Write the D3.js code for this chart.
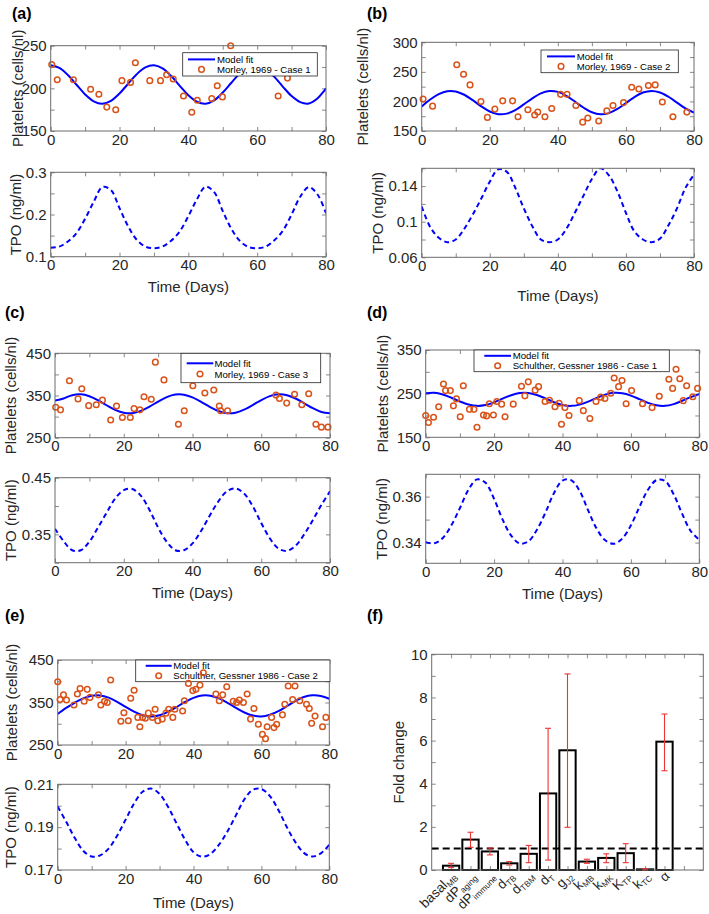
<!DOCTYPE html>
<html><head><meta charset="utf-8">
<script src="https://cdn.jsdelivr.net/npm/d3@7/dist/d3.min.js"></script>
<style>
body{margin:0;background:#fff;}
svg text{font-family:"Liberation Sans",Arial,Helvetica,sans-serif;}
</style></head>
<body>
<svg id="fig" width="709" height="914"></svg>
<script>
// ---------------- DATA ----------------
const days = [0,2.5,5,7.5,10,12.5,15,17.5,20,22.5,25,27.5,30,32.5,35,37.5,40,42.5,45,47.5,50,52.5,55,57.5,60,62.5,65,67.5,70,72.5,75,77.5,80];
const timeTicks = [0,10,20,30,40,50,60,70,80];
const timeLabels = [0,20,40,60,80];

// (a) Morley 1969 - Case 1
const fitA = [227,223.9,215.6,204.2,192.9,184.8,182,185.4,194,205.4,216.6,224.5,227,223.3,214.5,203,191.9,184.3,182,186,195.1,206.6,217.6,225,226.9,222.6,213.4,201.8,191,183.8,182.2,188,200];
const tpoA = [.121,.124,.136,.156,.19,.23,.265,.258,.215,.172,.14,.124,.12,.124,.138,.16,.196,.236,.266,.253,.208,.166,.137,.123,.12,.124,.139,.162,.2,.242,.265,.248,.203];
const obsA_t = [0.3,1.9,6.6,11.6,14.0,16.3,18.9,20.7,23.2,24.6,28.8,31.9,33.7,35.6,38.6,41.0,42.6,46.8,48.4,49.9,52.3,66.1,68.8];
const obsA_v = [228,210,210,199,193,178,175,209,207,230,209,209,216,211,191,172,186,188,203,190,250,191,212];
const platTicksA = [150,175,200,225,250], platLabelsA = [150,200,250];
const tpoTicksA = [0.1,0.15,0.2,0.25,0.3], tpoLabelsA = [0.1,0.2,0.3];

// (b) Morley 1969 - Case 2
const fitB = [191.5,203.3,212.3,217.3,216.9,211.3,202.1,191.7,183,178.5,179.4,185.5,195,205.3,213.7,217.6,216.2,209.6,199.8,189.7,181.7,178.2,180.3,187.3,197.2,207.3,215,217.8,215.2,207.9,198,188.1,181];
const tpoB = [.117,.094,.082,.077,.080,.092,.108,.126,.145,.159,.156,.138,.115,.095,.080,.077,.080,.092,.110,.129,.148,.160,.152,.134,.110,.089,.080,.077,.081,.096,.115,.138,.153];
const obsB_t = [0.4,3.2,10.3,12.3,14.2,17.4,19.3,21.5,23.8,26.7,28.3,31.2,33.2,34.1,36.2,38.2,40.8,42.7,45.3,47.3,48.8,52.0,54.4,56.2,59.3,61.7,63.8,66.6,68.6,70.7,73.8,77.9];
const obsB_v = [204,192,262,246,228,200,173,187,201,201,174,186,177,182,174,188,212,212,193,165,172,167,184,193,198,224,221,227,228,199,174,182];
const platTicksB = [150,175,200,225,250,275,300], platLabelsB = [150,200,250,300];
const tpoTicksB = [0.06,0.08,0.1,0.12,0.14,0.16], tpoLabelsB = [0.06,0.1,0.14];

// (c) Morley 1969 - Case 3
const fitC = [338,343,350.8,352.7,348.3,338.8,326.9,316,309.1,308.2,313.6,323.6,335.6,346,352.1,352,345.7,335.1,323.2,313.3,308.1,309.3,316.4,327.4,339.2,348.5,352.7,350.7,342.9,331.5,320,311,307.8];
const tpoC = [.360,.338,.322,.322,.337,.362,.388,.413,.428,.430,.418,.393,.362,.337,.322,.322,.334,.356,.383,.408,.426,.431,.422,.400,.370,.343,.325,.321,.330,.350,.375,.402,.426];
const obsC_t = [0.2,1.6,4.2,6.7,7.8,9.8,12.0,13.8,16.2,17.9,19.6,21.9,23.0,24.7,25.9,28.0,29.2,31.7,35.9,37.6,40.1,43.6,46.2,47.8,48.2,50.2,64.3,65.3,67.4,69.7,71.8,73.8,75.9,77.5,79.4];
const obsC_v = [322,316,385,342,366,326,328,339,292,325,298,298,319,316,347,341,429,387,282,314,373,356,363,325,314,314,351,343,332,353,328,354,282,275,275];
const platTicksC = [250,300,350,400,450], platLabelsC = [250,350,450];
const tpoTicksC = [0.3,0.35,0.4,0.45], tpoLabelsC = [0.35,0.45];

// (d) Schulther, Gessner 1986 - Case 1
const fitD = [250.7,251.8,248,240.6,232,225.1,222,223.9,230.1,238.6,246.5,251.3,251.5,247,239.1,230.5,224.1,222,224.9,231.7,240.3,247.7,251.8,251,245.6,237.4,229,223.3,222.1,226,233.7,242,249];
const tpoD = [.3402,.3397,.3420,.3475,.3550,.3630,.3675,.3660,.3590,.3500,.3430,.3396,.3405,.3455,.3530,.3615,.3670,.3672,.3625,.3540,.3460,.3410,.3395,.3418,.3475,.3555,.3630,.3672,.3668,.3610,.3525,.3450,.3412];
const obsD_t = [0,0.8,2.3,3.8,5.2,5.8,7.2,8.1,9.0,10.1,11.0,12.8,14.1,15.0,16.9,17.8,18.6,19.8,20.8,22.2,23.2,25.6,28.0,29.0,30.0,32.0,33.0,34.9,36.2,37.8,39.0,39.7,40.7,41.9,44.9,46.1,48.0,49.8,51.2,52.4,54.1,55.1,56.4,57.4,58.6,60.2,63.4,66.2,68.3,71.1,72.2,73.2,74.3,75.3,76.3,78.1,79.5];
const obsD_v = [200,184,196,220,272,257,257,222,238,197,268,214,214,173,201,199,227,201,232,226,197,226,267,245,277,258,266,232,235,220,228,180,218,200,234,211,193,232,242,239,251,286,266,280,227,257,227,218,244,283,262,306,284,234,268,243,262];
const platTicksD = [150,200,250,300,350], platLabelsD = [150,250,350];
const tpoTicksD = [0.34,0.35,0.36], tpoLabelsD = [0.34,0.36];

// (e) Schulther, Gessner 1986 - Case 2
const fitE = [323,337.3,349.4,359.7,365.9,366.5,361.4,351.7,339.7,328.3,320,317,319.8,327.8,339.2,351.2,361,366.5,366.1,359.7,349.4,337.3,326.5,319.2,317,321,329.5,341.3,353.3,362.8,366.8,365.5,358.8];
const tpoE = [.1996,.1925,.1850,.1790,.1763,.1768,.1800,.1860,.1935,.2010,.2065,.2080,.2055,.1995,.1918,.1842,.1783,.1762,.1775,.1818,.1880,.1955,.2030,.2075,.2078,.2045,.1980,.1900,.1830,.1780,.1763,.1778,.1818];
const obsE_t = [0,0.7,1.7,2.6,4.8,5.8,6.6,7.8,8.7,9.5,12.0,12.7,13.8,14.6,15.6,18.6,19.5,20.8,21.5,22.5,23.6,24.2,25.0,25.8,26.7,27.9,28.7,29.5,30.8,31.9,32.7,33.9,34.5,36.8,37.3,38.5,39.8,40.7,41.9,42.9,46.6,47.6,48.6,49.8,51.7,52.7,53.5,54.7,55.8,56.8,57.8,59.1,60.3,61.2,61.7,63.0,63.7,64.5,66.2,66.9,67.9,69.9,69.2,71.3,73.3,74.1,74.8,75.8,78.0,79.0];
const obsE_v = [399,357,368,356,344,370,383,353,381,362,368,344,353,350,403,306,326,307,360,379,315,293,315,313,325,315,334,307,311,325,334,315,334,330,354,395,378,381,391,420,370,354,368,387,353,350,356,350,370,311,336,299,275,265,293,315,291,299,321,346,389,389,357,354,346,336,301,318,293,315];
const platTicksE = [250,300,350,400,450], platLabelsE = [250,350,450];
const tpoTicksE = [0.17,0.18,0.19,0.2,0.21], tpoLabelsE = [0.17,0.19,0.21];

// (f) parameter fold changes
const paramMain = ["basal","dP","dP","d","d","d","g","k","k","K","k","\u03b1"];
const paramSub  = ["MB","aging","immune","TB","TBM","T","J2","MB","MK","TP","TC",""];
const foldChange = [0.2,1.41,0.86,0.31,0.75,3.55,5.55,0.39,0.56,0.78,0.03,5.95];
const errLow  = [0.11,1.05,0.70,0.23,0.34,0.46,1.98,0.31,0.34,0.34,0.0,4.6];
const errHigh = [0.31,1.75,1.02,0.39,1.14,6.57,9.09,0.50,0.75,1.22,0.06,7.23];
const foldTicks = [0,1,2,3,4,5,6,7,8,9,10], foldLabels = [0,2,4,6,8,10];
const paramTicks = [1,2,3,4,5,6,7,8,9,10,11,12,13];

// ---------------- DRAWING ----------------
const svg = d3.select("#fig");
const TXT = "#262626", AXC = "#6b6b6b", FIT = "#0000ff", OBS = "#d95319";
let clipN = 0;

function makeAxes(fr, xd, yd, xt, xl, yt, yl){
  const g = svg.append("g");
  const x = d3.scaleLinear().domain(xd).range([fr.x0, fr.x1]);
  const y = d3.scaleLinear().domain(yd).range([fr.y1, fr.y0]);
  const fmt = labs => d => labs.includes(d) ? String(d) : "";
  g.append("rect").attr("x",fr.x0).attr("y",fr.y0).attr("width",fr.x1-fr.x0).attr("height",fr.y1-fr.y0).attr("fill","#fff");
  const ax = [
    g.append("g").attr("transform",`translate(0,${fr.y1})`).call(d3.axisBottom(x).tickValues(xt).tickFormat(xl?fmt(xl):"").tickSizeInner(-4).tickSizeOuter(0).tickPadding(3)),
    g.append("g").attr("transform",`translate(0,${fr.y0})`).call(d3.axisTop(x).tickValues(xt).tickFormat("").tickSizeInner(-4).tickSizeOuter(0)),
    g.append("g").attr("transform",`translate(${fr.x0},0)`).call(d3.axisLeft(y).tickValues(yt).tickFormat(fmt(yl)).tickSizeInner(-4).tickSizeOuter(0).tickPadding(4)),
    g.append("g").attr("transform",`translate(${fr.x1},0)`).call(d3.axisRight(y).tickValues(yt).tickFormat("").tickSizeInner(-4).tickSizeOuter(0))
  ];
  ax.forEach(a => {
    a.select(".domain").remove();
    a.selectAll(".tick line").attr("stroke",AXC).attr("stroke-width",0.8);
    a.selectAll(".tick text").attr("fill",TXT).attr("font-size",15).style("font-family",'"Liberation Sans",Arial,sans-serif');
  });
  const id = "clip"+(clipN++);
  svg.append("clipPath").attr("id",id).append("rect").attr("x",fr.x0).attr("y",fr.y0).attr("width",fr.x1-fr.x0).attr("height",fr.y1-fr.y0);
  const frame = () => svg.append("rect").attr("x",fr.x0).attr("y",fr.y0).attr("width",fr.x1-fr.x0).attr("height",fr.y1-fr.y0).attr("fill","none").attr("stroke",AXC).attr("stroke-width",1);
  return {g, x, y, clip:`url(#${id})`, frame};
}

function yLabel(txt, cx, cy){
  svg.append("text").attr("transform",`translate(${cx},${cy}) rotate(-90)`).attr("text-anchor","middle")
    .attr("dominant-baseline","central").attr("font-size",15).attr("fill",TXT).text(txt);
}
function xLabel(txt, cx, cy){
  svg.append("text").attr("x",cx).attr("y",cy).attr("text-anchor","middle").attr("dominant-baseline","central")
    .attr("font-size",15).attr("fill",TXT).text(txt);
}
function tag(txt, x, y){
  svg.append("text").attr("x",x).attr("y",y).attr("font-size",16).attr("font-weight","bold").attr("fill","#000").text(txt);
}

const panels = [
  {tag:"(a)", tagPos:[12,19], top:{x0:50.7,x1:326,y0:45.7,y1:131}, bot:{x0:50.7,x1:326,y0:172.3,y1:256.7},
   yLabX:[17,15], xLabY:286, platDom:[150,250], platTicks:platTicksA, platLabels:platLabelsA,
   tpoDom:[0.1,0.3], tpoTicks:tpoTicksA, tpoLabels:tpoLabelsA, fit:fitA, tpo:tpoA, obsT:obsA_t, obsV:obsA_v,
   source:"Morley, 1969 - Case 1", leg:{x0:182.7,x1:317.3,y0:52.7,y1:76,lx0:188,lx1:215,tx:217,r1:59.4,r2:69.4}},
  {tag:"(b)", tagPos:[367,19], top:{x0:421.7,x1:694,y0:42.3,y1:131}, bot:{x0:421.7,x1:694,y0:168.3,y1:257.3},
   yLabX:[362,377], xLabY:295, platDom:[150,300], platTicks:platTicksB, platLabels:platLabelsB,
   tpoDom:[0.06,0.16], tpoTicks:tpoTicksB, tpoLabels:tpoLabelsB, fit:fitB, tpo:tpoB, obsT:obsB_t, obsV:obsB_v,
   source:"Morley, 1969 - Case 2", leg:{x0:541,x1:678.3,y0:50,y1:72.7,lx0:547,lx1:575,tx:576.7,r1:56.4,r2:66.4}},
  {tag:"(c)", tagPos:[5,318], top:{x0:55,x1:330,y0:353.3,y1:437.7}, bot:{x0:55,x1:330,y0:477.7,y1:562.7},
   yLabX:[10,10], xLabY:592, platDom:[250,450], platTicks:platTicksC, platLabels:platLabelsC,
   tpoDom:[0.3,0.45], tpoTicks:tpoTicksC, tpoLabels:tpoLabelsC, fit:fitC, tpo:tpoC, obsT:obsC_t, obsV:obsC_v,
   source:"Morley, 1969 - Case 3", leg:{x0:181,x1:320.7,y0:353.3,y1:382.7,lx0:186.7,lx1:213.3,tx:214.5,r1:363.3,r2:374}},
  {tag:"(d)", tagPos:[367,318], top:{x0:425.7,x1:699.3,y0:350,y1:437.3}, bot:{x0:425.7,x1:699.3,y0:474.3,y1:563.3},
   yLabX:[382,381], xLabY:593, platDom:[150,350], platTicks:platTicksD, platLabels:platLabelsD,
   tpoDom:[0.331,0.3697], tpoTicks:tpoTicksD, tpoLabels:tpoLabelsD, fit:fitD, tpo:tpoD, obsT:obsD_t, obsV:obsD_v,
   source:"Schulther, Gessner 1986 - Case 1", leg:{x0:474,x1:669.3,y0:350,y1:371.7,lx0:484.3,lx1:511,tx:512.7,r1:355.8,r2:365.8}},
  {tag:"(e)", tagPos:[5,621], top:{x0:57.7,x1:329.3,y0:660,y1:745}, bot:{x0:57.7,x1:329.3,y0:784.3,y1:870},
   yLabX:[11,10], xLabY:902, platDom:[250,450], platTicks:platTicksE, platLabels:platLabelsE,
   tpoDom:[0.17,0.21], tpoTicks:tpoTicksE, tpoLabels:tpoLabelsE, fit:fitE, tpo:tpoE, obsT:obsE_t, obsV:obsE_v,
   source:"Schulther, Gessner 1986 - Case 2", pointsOver:true, leg:{x0:135.7,x1:330,y0:660,y1:681.7,lx0:145.7,lx1:171.7,tx:173.3,r1:665.8,r2:675.8}}
];

panels.forEach(p => {
  tag(p.tag, p.tagPos[0], p.tagPos[1]);
  // Platelets axes
  const A = makeAxes(p.top, [0,80], p.platDom, timeTicks, timeLabels, p.platTicks, p.platLabels);
  const line = d3.line().x(d => A.x(d[0])).y(d => A.y(d[1])).curve(d3.curveCatmullRom.alpha(0.5));
  svg.append("path").datum(days.map((t,i)=>[t,p.fit[i]])).attr("d",line).attr("fill","none")
    .attr("stroke",FIT).attr("stroke-width",2).attr("clip-path",A.clip);
  const drawPts = () => svg.append("g").selectAll("circle").data(p.obsT.map((t,i)=>[t,p.obsV[i]])).join("circle")
    .attr("cx",d=>A.x(d[0])).attr("cy",d=>A.y(d[1])).attr("r",2.8).attr("fill","none").attr("stroke",OBS).attr("stroke-width",1.5);
  if (!p.pointsOver) drawPts();
  A.frame();
  // legend
  const L = p.leg;
  svg.append("rect").attr("x",L.x0).attr("y",L.y0).attr("width",L.x1-L.x0).attr("height",L.y1-L.y0)
    .attr("fill","#fff").attr("stroke",TXT).attr("stroke-width",0.8);
  svg.append("line").attr("x1",L.lx0).attr("x2",L.lx1).attr("y1",L.r1).attr("y2",L.r1).attr("stroke",FIT).attr("stroke-width",2);
  svg.append("circle").attr("cx",(L.lx0+L.lx1)/2).attr("cy",L.r2).attr("r",2.8).attr("fill","none").attr("stroke",OBS).attr("stroke-width",1.5);
  svg.append("text").attr("x",L.tx).attr("y",L.r1).attr("dominant-baseline","central").attr("font-size",9.6).attr("fill","#000").text("Model fit");
  svg.append("text").attr("x",L.tx).attr("y",L.r2).attr("dominant-baseline","central").attr("font-size",9.6).attr("fill","#000").text(p.source);
  if (p.pointsOver) drawPts();
  yLabel("Platelets (cells/nl)", p.yLabX[0], (p.top.y0+p.top.y1)/2);

  // TPO axes
  const B = makeAxes(p.bot, [0,80], p.tpoDom, timeTicks, timeLabels, p.tpoTicks, p.tpoLabels);
  const line2 = d3.line().x(d => B.x(d[0])).y(d => B.y(d[1])).curve(d3.curveCatmullRom.alpha(0.5));
  svg.append("path").datum(days.map((t,i)=>[t,p.tpo[i]])).attr("d",line2).attr("fill","none")
    .attr("stroke",FIT).attr("stroke-width",2).attr("stroke-dasharray","5,3.5").attr("clip-path",B.clip);
  B.frame();
  yLabel("TPO (ng/ml)", p.yLabX[1], (p.bot.y0+p.bot.y1)/2);
  xLabel("Time (Days)", (p.bot.x0+p.bot.x1)/2, p.xLabY);
});

// ---- panel (f)
tag("(f)", 367, 621);
const fr = {x0:431.7,x1:703.3,y0:654.3,y1:870};
const F = makeAxes(fr, [0,14], [0,10], paramTicks, null, foldTicks, foldLabels);
const bw = 16.3;
svg.append("g").selectAll("rect").data(foldChange).join("rect")
  .attr("x",(d,i)=>F.x(i+1)-bw/2).attr("width",bw).attr("y",d=>F.y(d)).attr("height",d=>F.y(0)-F.y(d))
  .attr("fill","none").attr("stroke","#000").attr("stroke-width",2);
svg.append("line").attr("x1",fr.x0).attr("x2",fr.x1).attr("y1",F.y(1)).attr("y2",F.y(1))
  .attr("stroke","#000").attr("stroke-width",2).attr("stroke-dasharray","7,4");
const eb = svg.append("g").attr("stroke","#ee3333").attr("stroke-width",1.1);
foldChange.forEach((d,i) => {
  const cx = F.x(i+1);
  eb.append("line").attr("x1",cx).attr("x2",cx).attr("y1",F.y(errLow[i])).attr("y2",F.y(errHigh[i]));
  eb.append("line").attr("x1",cx-3).attr("x2",cx+3).attr("y1",F.y(errLow[i])).attr("y2",F.y(errLow[i]));
  eb.append("line").attr("x1",cx-3).attr("x2",cx+3).attr("y1",F.y(errHigh[i])).attr("y2",F.y(errHigh[i]));
});
F.frame();
paramMain.forEach((m,i) => {
  const t = svg.append("text").attr("transform",`translate(${F.x(i+1)+6},${fr.y1+7}) rotate(-45)`)
    .attr("text-anchor","end").attr("font-size",13.5).attr("fill",TXT);
  t.append("tspan").text(m);
  if (paramSub[i]) t.append("tspan").attr("font-size",8.5).attr("dy","0.3em").text(paramSub[i]);
});
yLabel("Fold change", 398, (fr.y0+fr.y1)/2);
</script>
</body></html>
